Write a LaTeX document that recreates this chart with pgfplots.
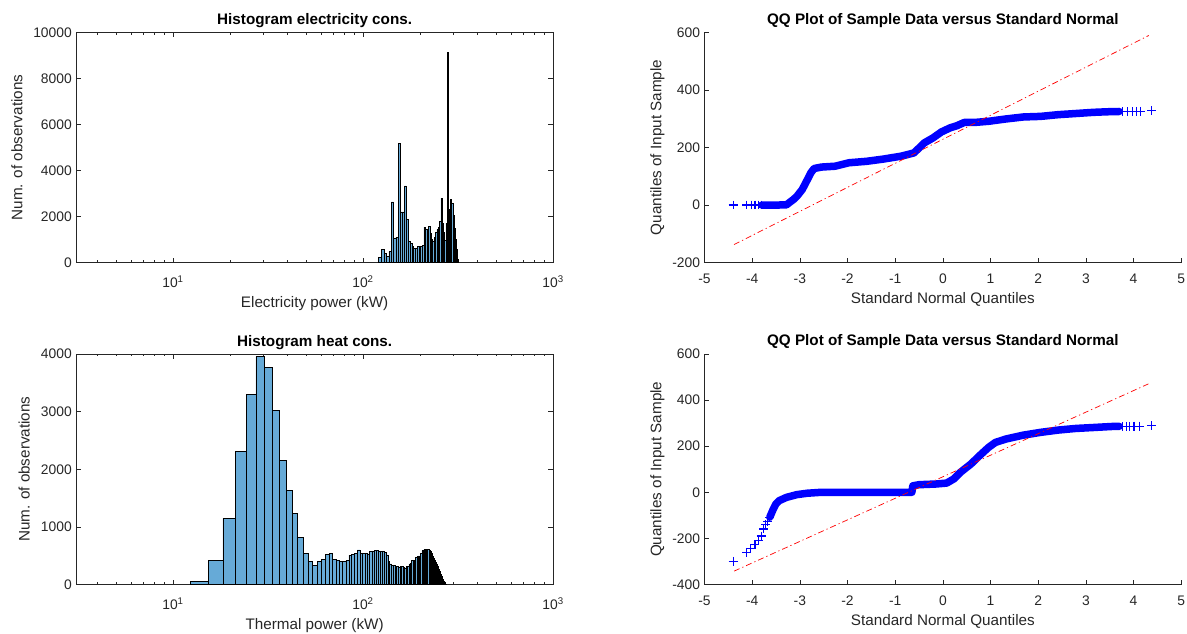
\documentclass[border=0pt]{standalone}
\usepackage{fontspec}
\setmainfont{Liberation Sans}
\usepackage{pgfplots}
\pgfplotsset{compat=1.18}
\definecolor{histfill}{rgb}{0.4,0.668,0.845}
\definecolor{axgray}{rgb}{0.15,0.15,0.15}
\pgfplotsset{
  mycommon/.style={
    scale only axis, width=476.7bp, height=230.4bp, anchor=south west,
    scaled ticks=false,
    enlargelimits=false,
    tick align=inside,
    axis line style={axgray, line width=0.5bp},
    every tick/.style={axgray, line width=0.5bp},
    major tick length=4.8bp, minor tick length=2.4bp,
    tick label style={font=\fontsize{13.9}{16}\selectfont, text=axgray},
    y tick label style={anchor=east, xshift=-1bp},
    every axis title/.style={at={(axis description cs:0.5,1)}, yshift=8bp, anchor=base, font=\bfseries\fontsize{15.3}{18}\selectfont, text=black},
  },
  myxl/.style={every axis x label/.style={at={(axis description cs:0.5,0)}, yshift=#1, anchor=base, font=\fontsize{15.3}{18}\selectfont, text=axgray}},
  myyl/.style={every axis y label/.style={at={(axis description cs:0,0.5)}, xshift=#1, rotate=90, anchor=center, font=\fontsize{15.3}{18}\selectfont, text=axgray}},
  myxtl/.style={x tick label style={anchor=base, yshift=#1}},
  mybars/.style={ybar interval, fill=histfill, draw=black, line width=0.6bp},
  myband/.style={blue, line width=7.5bp, line join=round, line cap=round},
  myqqmarks/.style={only marks, mark=+, color=blue, mark size=4.4bp, mark options={draw=blue, line width=1.2bp}},
  myrefline/.style={red, line width=0.7bp, dash pattern=on 6bp off 3bp on 1.2bp off 3bp},
}
\begin{document}
\begin{tikzpicture}
\useasboundingbox (0,0) rectangle (1187bp,634bp);
% Top-left histogram
\begin{axis}[mycommon, xmode=log, xmin=3.1, xmax=1000,
  /pgf/number format/assume math mode=true, /pgf/number format/1000 sep={},
  xtick={10,100,1000},
  xticklabels={10\textsuperscript{1},10\textsuperscript{2},10\textsuperscript{3}},
  minor xtick={4,5,6,7,8,9,20,30,40,50,60,70,80,90,200,300,400,500,600,700,800,900},
  myxtl=-25bp, myxl=-45bp,
  at={(76.3bp,371.3bp)}, ymin=0, ymax=10000, ytick={0,2000,4000,6000,8000,10000},
  myyl=-59.3bp, title={Histogram electricity cons.}, xlabel={Electricity power (kW)}, ylabel={Num. of observations}]
\addplot[mybars] coordinates {
(121,216) (125,563) (129,418) (133,274) (137,490) (141,2640) (145,1068) (149,1111)
(153,5180) (157,2208) (161,2208) (165,3333) (169,1890) (173,909) (177,850) (181,720)
(185,635) (189,635) (193,707) (197,707) (201,720) (205,760) (209,1544) (213,1450)
(217,1356) (221,1560) (225,1260) (229,1000) (233,950) (237,1100) (241,1300) (245,1450)
(249,1544) (253,1790) (257,2800) (261,1717) (265,1300) (269,967) (273,1717) (277,9120)
(281,1790) (285,2300) (289,2756) (293,2583) (297,2078) (301,1500) (305,1000) (309,563)
(313,130) (317,0)};
\end{axis}
% Bottom-left histogram
\begin{axis}[mycommon, xmode=log, xmin=3.1, xmax=1000,
  /pgf/number format/assume math mode=true, /pgf/number format/1000 sep={},
  xtick={10,100,1000},
  xticklabels={10\textsuperscript{1},10\textsuperscript{2},10\textsuperscript{3}},
  minor xtick={4,5,6,7,8,9,20,30,40,50,60,70,80,90,200,300,400,500,600,700,800,900},
  myxtl=-25bp, myxl=-45bp,
  at={(76.3bp,49.5bp)}, height=230.5bp, ymin=0, ymax=4000, ytick={0,1000,2000,3000,4000},
  myyl=-52bp, title={Histogram heat cons.}, xlabel={Thermal power (kW)}, ylabel={Num. of observations}]
\addplot[mybars] coordinates {
(12.3,50) (15.3,413) (18.3,1149) (21.3,2316) (24.3,3305) (27.3,3953) (30.3,3768) (33.3,3028)
(36.3,2160) (39.3,1628) (42.3,1235) (45.3,820) (48.3,541) (51.3,396) (54.3,338) (57.3,396)
(60.3,436) (63.3,524) (66.3,541) (69.3,436) (72.3,419) (75.3,402) (78.3,396) (81.3,419)
(84.3,510) (87.3,524) (90.3,541) (93.3,600) (96.3,541) (99.3,541) (102.3,541) (105.3,530)
(108.3,570) (111.3,580) (114.3,587) (117.3,587) (120.3,580) (123.3,570) (126.3,570) (129.3,555)
(132.3,512) (135.3,396) (138.3,356) (141.3,338) (144.3,333) (147.3,320) (150.3,309) (153.3,298)
(156.3,309) (159.3,320) (162.3,292) (165.3,280) (168.3,309) (171.3,320) (174.3,356) (177.3,367)
(180.3,414) (183.3,420) (186.3,425) (189.3,472) (192.3,483) (195.3,495) (198.3,495) (201.3,541)
(204.3,587) (207.3,600) (210.3,610) (213.3,610) (216.3,610) (219.3,610) (222.3,600) (225.3,570)
(228.3,541) (231.3,495) (234.3,454) (237.3,425) (240.3,385) (243.3,356) (246.3,309) (249.3,263)
(252.3,223) (255.3,182) (258.3,136) (261.3,90) (264.3,49) (267.3,32) (270.3,10) (273.3,0)};
\end{axis}
% Top-right QQ
\begin{axis}[axis x line=bottom, axis y line=left, mycommon, axis line style={-},
  /pgf/number format/assume math mode=true, /pgf/number format/1000 sep={},
  xmin=-5, xmax=5, xtick={-5,-4,...,5},
  myxtl=-21bp, myxl=-41bp, myyl=-47bp,
  xlabel={Standard Normal Quantiles}, ylabel={Quantiles of Input Sample},
  title={QQ Plot of Sample Data versus Standard Normal},
  at={(704.5bp,371.3bp)}, ymin=-200, ymax=600, ytick={-200,0,200,400,600}]
\addplot[myband] coordinates {
(-3.80,0) (-3.50,0) (-3.28,1) (-3.21,10) (-3.13,20) (-3.06,31) (-2.95,54) (-2.84,89)
(-2.77,112) (-2.70,127) (-2.55,132) (-2.26,135) (-1.97,147) (-1.60,152) (-1.24,160)
(-0.87,170) (-0.61,181) (-0.50,198) (-0.39,216) (-0.21,233) (-0.03,254) (0.15,268)
(0.30,276) (0.45,287) (0.67,287) (0.96,291) (1.32,299) (1.69,306) (2.05,308) (2.42,314)
(2.79,318) (3.15,322) (3.44,324) (3.70,325)};
\addplot[myqqmarks] coordinates {
(-4.40,0) (-4.12,0) (-4.01,0) (-3.94,0) (-3.87,0) (-3.81,0)
(3.77,325) (3.88,325) (3.97,325) (4.06,326) (4.14,326) (4.38,328)};
\addplot[myrefline] coordinates {(-4.38,-137) (4.32,589)};
\end{axis}
% Bottom-right QQ
\begin{axis}[axis x line=bottom, axis y line=left, mycommon, axis line style={-},
  /pgf/number format/assume math mode=true, /pgf/number format/1000 sep={},
  xmin=-5, xmax=5, xtick={-5,-4,...,5},
  myxtl=-21bp, myxl=-41bp, myyl=-47bp,
  xlabel={Standard Normal Quantiles}, ylabel={Quantiles of Input Sample},
  title={QQ Plot of Sample Data versus Standard Normal},
  at={(704.5bp,49.5bp)}, height=230.5bp, ymin=-400, ymax=600, ytick={-400,-200,0,200,400,600}]
\addplot[myband] coordinates {
(-3.63,-108) (-3.57,-79) (-3.50,-50) (-3.43,-36) (-3.28,-22) (-3.06,-10) (-2.84,-4)
(-2.55,0) (-0.65,0) (-0.63,28) (-0.50,33) (-0.14,36) (0.08,40) (0.23,58) (0.37,87)
(0.59,123) (0.77,159) (0.96,195) (1.10,216) (1.32,231) (1.69,248) (2.05,260) (2.42,270)
(2.79,277) (3.15,281) (3.59,286) (3.70,286)};
\addplot[myqqmarks] coordinates {
(-4.40,-299) (-4.12,-260) (-4.03,-245) (-3.94,-228) (-3.87,-209) (-3.81,-190)
(-3.76,-159) (-3.72,-141) (-3.68,-127) (-3.63,-108)
(3.77,286) (3.85,286) (3.92,286) (4.01,287) (4.12,287) (4.38,289)};
\addplot[myrefline] coordinates {(-4.38,-342) (4.33,472)};
\end{axis}
\end{tikzpicture}
\end{document}
